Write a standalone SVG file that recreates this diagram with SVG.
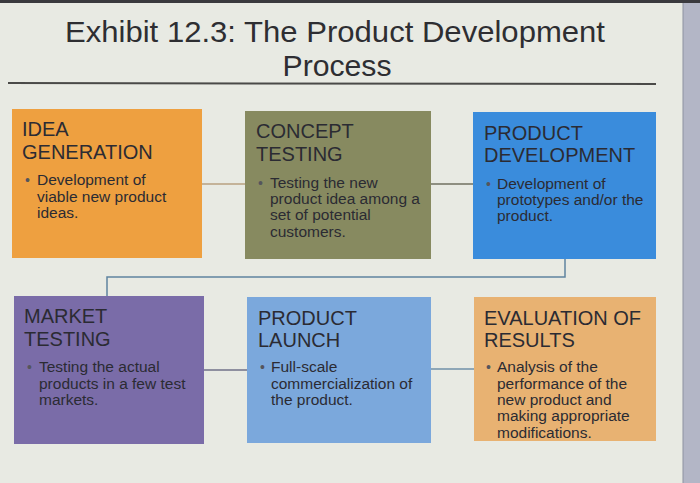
<svg xmlns="http://www.w3.org/2000/svg" width="700" height="483" viewBox="0 0 700 483">
<style>
.hd{font-family:"Liberation Sans",Arial,sans-serif;font-size:20px;fill:#2b2b33}
.bt{font-family:"Liberation Sans",Arial,sans-serif;font-size:15.5px;fill:#2b2b33}
.bl{font-family:"Liberation Sans",Arial,sans-serif;font-size:14px;fill:#55555c}
.ttl{font-family:"Liberation Sans",Arial,sans-serif;font-size:30px;fill:#2e2e32}
.cn{fill:none;stroke-width:1.5}
</style>
<rect x="0" y="0" width="700" height="483" fill="#e8eae3"/>
<rect x="683" y="0" width="17" height="483" fill="#b3b6c6"/>
<line x1="683" y1="0" x2="683" y2="483" stroke="#8e92a0" stroke-width="1"/>
<rect x="0" y="0" width="700" height="3" fill="#3a3a3e"/>
<g id="title">
<text class="ttl" x="335" y="42" text-anchor="middle" textLength="540" lengthAdjust="spacingAndGlyphs">Exhibit 12.3: The Product Development</text>
<text class="ttl" x="337" y="76" text-anchor="middle" textLength="109" lengthAdjust="spacingAndGlyphs">Process</text>
<line x1="8" y1="83" x2="656" y2="84" stroke="#4a4a48" stroke-width="2"/>
</g>
<g id="connectors">
<line class="cn" x1="202" y1="184" x2="245" y2="184" stroke="#b8a080"/>
<line class="cn" x1="431" y1="184" x2="473" y2="184" stroke="#707060"/>
<polyline class="cn" points="565,259 565,277 107,277 107,296" stroke="#5f84a0"/>
<line class="cn" x1="204" y1="370" x2="247" y2="370" stroke="#707088"/>
<line class="cn" x1="431" y1="369" x2="474" y2="369" stroke="#7090a8"/>
</g>
<g id="idea-generation">
<rect x="12" y="109" width="190" height="149" fill="#eea040"/>
<text class="hd" x="22" y="136">IDEA</text>
<text class="hd" x="22" y="159">GENERATION</text>
<text class="bl" x="25" y="185">•</text>
<text class="bt" x="37" y="185">Development of</text>
<text class="bt" x="37" y="202">viable new product</text>
<text class="bt" x="37" y="218">ideas.</text>
</g>
<g id="concept-testing">
<rect x="245" y="111" width="186" height="148" fill="#878a60"/>
<text class="hd" x="256" y="138">CONCEPT</text>
<text class="hd" x="256" y="161">TESTING</text>
<text class="bl" x="258" y="188">•</text>
<text class="bt" x="270" y="188">Testing the new</text>
<text class="bt" x="270" y="204">product idea among a</text>
<text class="bt" x="270" y="220">set of potential</text>
<text class="bt" x="270" y="237">customers.</text>
</g>
<g id="product-development">
<rect x="473" y="112" width="183" height="147" fill="#3a8cdc"/>
<text class="hd" x="484" y="140">PRODUCT</text>
<text class="hd" x="484" y="162">DEVELOPMENT</text>
<text class="bl" x="486" y="189">•</text>
<text class="bt" x="497" y="189">Development of</text>
<text class="bt" x="497" y="205">prototypes and/or the</text>
<text class="bt" x="497" y="221">product.</text>
</g>
<g id="market-testing">
<rect x="14" y="296" width="190" height="148" fill="#7a6ca8"/>
<text class="hd" x="24" y="323">MARKET</text>
<text class="hd" x="24" y="346">TESTING</text>
<text class="bl" x="27" y="372">•</text>
<text class="bt" x="39" y="372">Testing the actual</text>
<text class="bt" x="39" y="389">products in a few test</text>
<text class="bt" x="39" y="405">markets.</text>
</g>
<g id="product-launch">
<rect x="247" y="297" width="184" height="146" fill="#7ba8dc"/>
<text class="hd" x="258" y="325">PRODUCT</text>
<text class="hd" x="258" y="347">LAUNCH</text>
<text class="bl" x="260" y="372">•</text>
<text class="bt" x="271" y="372">Full-scale</text>
<text class="bt" x="271" y="389">commercialization of</text>
<text class="bt" x="271" y="405">the product.</text>
</g>
<g id="evaluation-of-results">
<rect x="474" y="297" width="182" height="144" fill="#e8b272"/>
<text class="hd" x="484" y="325">EVALUATION OF</text>
<text class="hd" x="484" y="347">RESULTS</text>
<text class="bl" x="486" y="372">•</text>
<text class="bt" x="497" y="372">Analysis of the</text>
<text class="bt" x="497" y="389">performance of the</text>
<text class="bt" x="497" y="405">new product and</text>
<text class="bt" x="497" y="421">making appropriate</text>
<text class="bt" x="497" y="438">modifications.</text>
</g>
</svg>
